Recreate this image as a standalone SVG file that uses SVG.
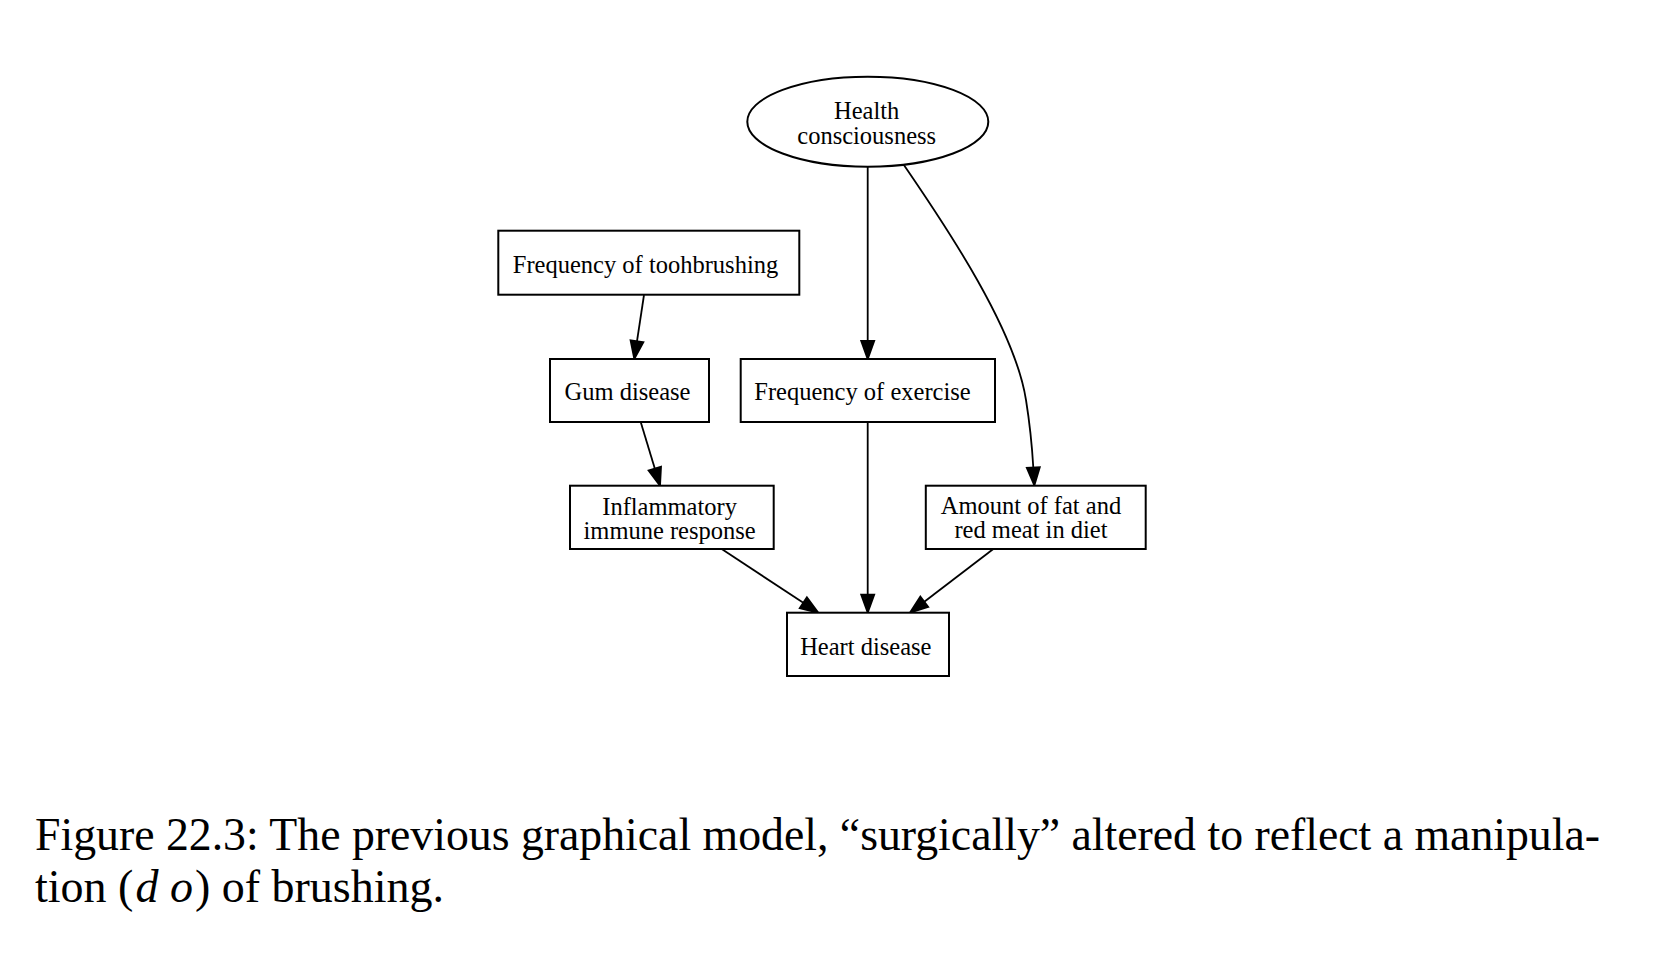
<svg xmlns="http://www.w3.org/2000/svg" width="1670" height="958" viewBox="0 0 1670 958">
<style>
.node{fill:#fff;stroke:#000;stroke-width:2}
.lbl{font-family:"Liberation Serif","Times New Roman",serif;font-size:24.5px;fill:#000;text-anchor:middle}
.edge{fill:none;stroke:#000;stroke-width:1.8}
.cap{font-family:"Liberation Serif","Times New Roman",serif;font-size:46px;fill:#000}
</style>
<defs>
<marker id="arr" markerUnits="userSpaceOnUse" viewBox="-1 -8 21 16" refX="0" refY="0" markerWidth="21" markerHeight="16" orient="auto" overflow="visible">
<path d="M0,-6.5 L18,0 L0,6.5 Z" fill="#000" stroke="#000" stroke-width="1.8" stroke-linejoin="miter"/>
</marker>
</defs>
<rect width="1670" height="958" fill="#fff"/>
<g id="connectors">
<path class="edge" marker-end="url(#arr)" d="M644,295 L637,341.2"/>
<path class="edge" marker-end="url(#arr)" d="M867.7,166.7 L867.7,341"/>
<path class="edge" marker-end="url(#arr)" d="M901.5,161.5 C950,232 1015,330 1026,400 C1030,425 1032,445 1033.3,467.5"/>
<path class="edge" marker-end="url(#arr)" d="M640.7,422 L654.8,468.5"/>
<path class="edge" marker-end="url(#arr)" d="M867.7,422 L867.7,594.7"/>
<path class="edge" marker-end="url(#arr)" d="M721.7,549 L803.3,602.8"/>
<path class="edge" marker-end="url(#arr)" d="M993.3,549 L924.3,601.8"/>
</g>
<g id="health">
<ellipse class="node" cx="867.8" cy="121.7" rx="120.5" ry="45"/>
<text class="lbl" x="866.7" y="119.3">Health</text>
<text class="lbl" x="866.7" y="143.8">consciousness</text>
</g>
<g id="toothbrushing">
<rect class="node" x="498.3" y="230.7" width="301" height="64"/>
<text class="lbl" x="645.5" y="272.7">Frequency of toohbrushing</text>
</g>
<g id="gum">
<rect class="node" x="550" y="359" width="159" height="63"/>
<text class="lbl" x="627.5" y="400">Gum disease</text>
</g>
<g id="exercise">
<rect class="node" x="740.7" y="359" width="254.3" height="63"/>
<text class="lbl" x="862.5" y="400">Frequency of exercise</text>
</g>
<g id="inflammatory">
<rect class="node" x="570" y="485.7" width="203.7" height="63.3"/>
<text class="lbl" x="669.6" y="515">Inflammatory</text>
<text class="lbl" x="669.6" y="539">immune response</text>
</g>
<g id="fat">
<rect class="node" x="925.8" y="485.7" width="219.9" height="63.3"/>
<text class="lbl" x="1031" y="514">Amount of fat and</text>
<text class="lbl" x="1031" y="538.3">red meat in diet</text>
</g>
<g id="heart">
<rect class="node" x="787" y="612.7" width="162" height="63.3"/>
<text class="lbl" x="865.8" y="655">Heart disease</text>
</g>
<g id="caption">
<text class="cap" x="35" y="850" textLength="1565" lengthAdjust="spacingAndGlyphs">Figure 22.3: The previous graphical model, “surgically” altered to reflect a manipula-</text>
<text class="cap" x="35" y="902">tion (<tspan font-style="italic" dx="2">d o</tspan><tspan dx="2">) of brushing.</tspan></text>
</g>
</svg>
